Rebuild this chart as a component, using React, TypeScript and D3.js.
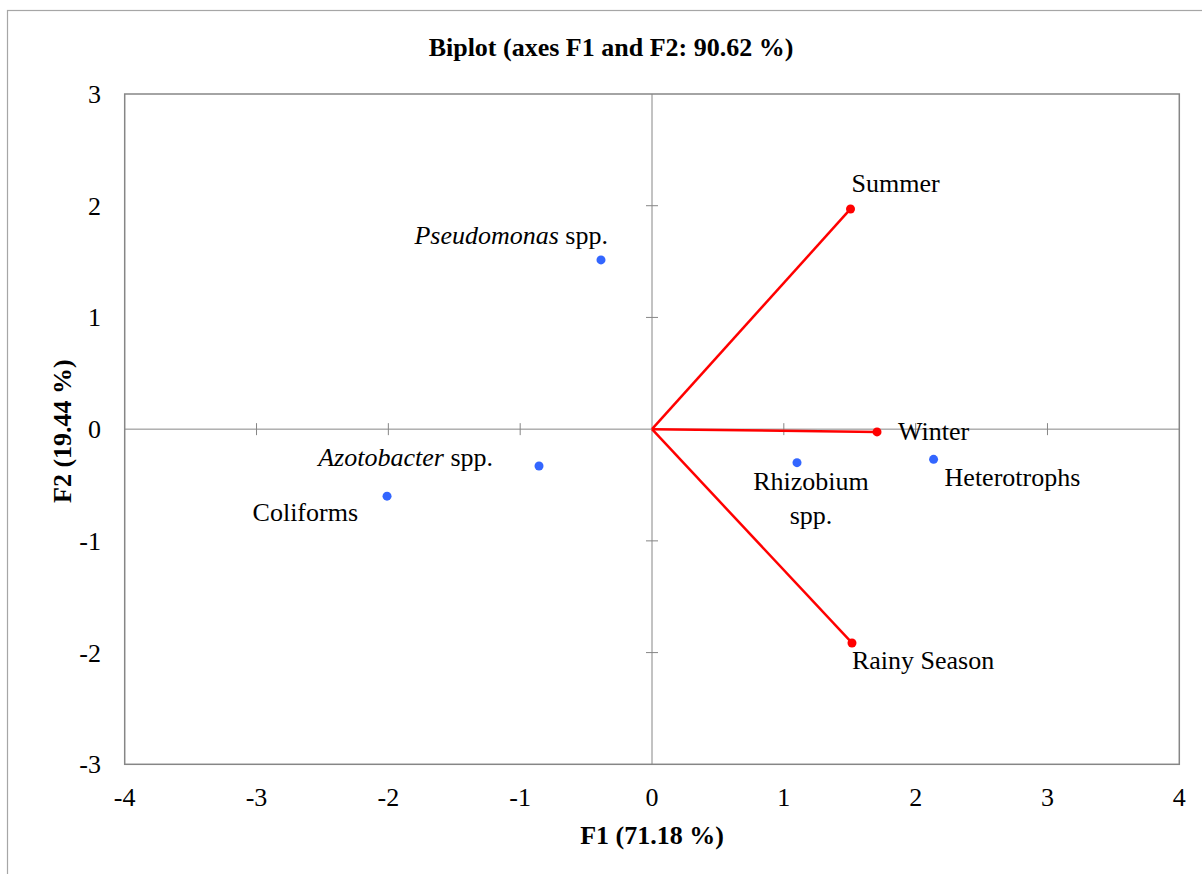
import React from "react";
import * as d3 from "d3";

const title = "Biplot (axes F1 and F2: 90.62 %)";
const xTitle = "F1 (71.18 %)";
const yTitle = "F2 (19.44 %)";
const xTicks = [-4, -3, -2, -1, 0, 1, 2, 3, 4];
const yTicks = [-3, -2, -1, 0, 1, 2, 3];

// Variables (seasons) — vectors from origin
const varNames = ["Summer", "Winter", "Rainy Season"];
const varF1 = [1.506, 1.707, 1.517];
const varF2 = [1.971, -0.025, -1.914];

// Observations (bacteria)
const obsNames = ["Pseudomonas spp.", "Azotobacter spp.", "Coliforms", "Rhizobium spp.", "Heterotrophs"];
const obsF1 = [-0.387, -0.857, -2.01, 1.10, 2.136];
const obsF2 = [1.515, -0.33, -0.60, -0.30, -0.27];

// label placement (pixel offsets from point)
const varLabelPos: Record<string, { dx: number; dy: number; anchor: string }> = {
  Summer: { dx: 1, dy: -17, anchor: "start" },
  Winter: { dx: 21, dy: 8, anchor: "start" },
  "Rainy Season": { dx: 0, dy: 26, anchor: "start" },
};
const obsLabelPos: Record<string, { dx: number; dy: number; anchor: string }> = {
  "Pseudomonas spp.": { dx: 7, dy: -16, anchor: "end" },
  "Azotobacter spp.": { dx: -46, dy: 0, anchor: "end" },
  Coliforms: { dx: -29, dy: 25, anchor: "end" },
  "Rhizobium spp.": { dx: 14, dy: 27, anchor: "middle" },
  Heterotrophs: { dx: 11, dy: 27, anchor: "start" },
};

const W = 1202;
const H = 874;
const plot = { left: 124.7, right: 1179.3, top: 94, bottom: 764.3 };
const FONT = "'Liberation Serif', 'Times New Roman', serif";
const FS = 26;

function renderLabel(name: string) {
  if (name === "Pseudomonas spp.") {
    return (<><tspan fontStyle="italic">Pseudomonas</tspan> spp.</>);
  }
  if (name === "Azotobacter spp.") {
    return (<><tspan fontStyle="italic">Azotobacter</tspan> spp.</>);
  }
  return name;
}

export default function App() {
  const x = d3.scaleLinear().domain([-4, 4]).range([plot.left, plot.right]);
  const y = d3.scaleLinear().domain([-3, 3]).range([plot.bottom, plot.top]);
  const axisColor = "#868686";
  const tick = 6;

  return (
    <svg
      width={W}
      height={H}
      style={{ position: "absolute", left: 0, top: 0, background: "#fff" }}
      fontFamily={FONT}
    >
      <rect x={0} y={0} width={W} height={H} fill="#fff" />
      <rect x={7.5} y={10.5} width={1200} height={900} fill="none" stroke="#a6a6a6" strokeWidth={1.2} />
      <text x={611} y={56} textAnchor="middle" fontWeight="bold" fontSize={FS}>{title}</text>

      {/* plot frame */}
      <rect
        x={plot.left}
        y={plot.top}
        width={plot.right - plot.left}
        height={plot.bottom - plot.top}
        fill="none"
        stroke={axisColor}
        strokeWidth={1.5}
      />
      {/* zero axes */}
      <line x1={plot.left} x2={plot.right} y1={y(0)} y2={y(0)} stroke={axisColor} strokeWidth={1} />
      <line x1={x(0)} x2={x(0)} y1={plot.top} y2={plot.bottom} stroke={axisColor} strokeWidth={1} />
      {xTicks.filter((t) => t !== -4 && t !== 4 && t !== 0).map((t) => (
        <line key={"xt" + t} x1={x(t)} x2={x(t)} y1={y(0) - tick} y2={y(0) + tick} stroke={axisColor} strokeWidth={1} />
      ))}
      {yTicks.filter((t) => t !== -3 && t !== 3 && t !== 0).map((t) => (
        <line key={"yt" + t} x1={x(0) - tick} x2={x(0) + tick} y1={y(t)} y2={y(t)} stroke={axisColor} strokeWidth={1} />
      ))}

      {/* tick labels */}
      {xTicks.map((t) => (
        <text key={"xl" + t} x={x(t)} y={806} textAnchor="middle" fontSize={FS}>{t}</text>
      ))}
      {yTicks.map((t) => (
        <text key={"yl" + t} x={101} y={y(t) + 9} textAnchor="end" fontSize={FS}>{t}</text>
      ))}

      {/* axis titles */}
      <text x={652} y={844} textAnchor="middle" fontWeight="bold" fontSize={FS}>{xTitle}</text>
      <text
        transform={`translate(71, ${y(0) + 2}) rotate(-90)`}
        textAnchor="middle"
        fontWeight="bold"
        fontSize={FS}
      >{yTitle}</text>

      {/* variable vectors */}
      {varNames.map((n, i) => (
        <g key={n}>
          <line x1={x(0)} y1={y(0)} x2={x(varF1[i])} y2={y(varF2[i])} stroke="#ff0000" strokeWidth={2.5} />
          <circle cx={x(varF1[i])} cy={y(varF2[i])} r={4.5} fill="#ff0000" />
          <text
            x={x(varF1[i]) + varLabelPos[n].dx}
            y={y(varF2[i]) + varLabelPos[n].dy}
            textAnchor={varLabelPos[n].anchor as any}
            fontSize={FS}
          >{n}</text>
        </g>
      ))}

      {/* observations */}
      {obsNames.map((n, i) => {
        const p = obsLabelPos[n];
        const px = x(obsF1[i]);
        const py = y(obsF2[i]);
        return (
          <g key={n}>
            <circle cx={px} cy={py} r={4.5} fill="#3366ff" />
            {n === "Rhizobium spp." ? (
              <text x={px + p.dx} y={py + p.dy} textAnchor="middle" fontSize={FS}>
                <tspan x={px + p.dx}>Rhizobium</tspan>
                <tspan x={px + p.dx} dy={34}>spp.</tspan>
              </text>
            ) : (
              <text x={px + p.dx} y={py + p.dy} textAnchor={p.anchor as any} fontSize={FS}>
                {renderLabel(n)}
              </text>
            )}
          </g>
        );
      })}
    </svg>
  );
}
